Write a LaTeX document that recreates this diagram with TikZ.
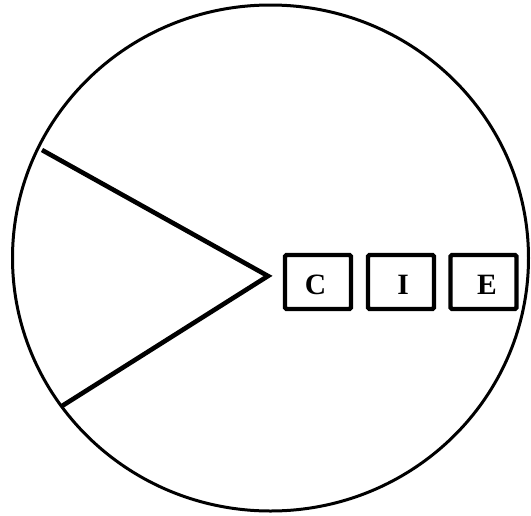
\documentclass[tikz,border=0pt]{standalone}
\usepackage{fontspec}
\setmainfont{Liberation Serif}
\usetikzlibrary{shapes.geometric}
\begin{document}
\begin{tikzpicture}[x=1pt,y=-1pt,
  ring/.style={draw=black,line width=3pt},
  spoke/.style={draw=black,line width=4.6pt,line cap=butt,line join=miter},
  letterbox/.style={draw=black,line width=4.3pt,rounded corners=1.5pt,minimum width=66pt,minimum height=54pt,inner sep=0pt},
  letter/.style={font=\bfseries\fontsize{29.5}{29.5}\selectfont,inner sep=0pt}]
\useasboundingbox (0,0) rectangle (531,515);
\node[ring,ellipse,minimum width=516pt,minimum height=506pt,inner sep=0pt] (disc) at (270.5,258) {};
\coordinate (apex) at (268,276);
\coordinate (top) at (42,150);
\coordinate (bot) at (62,406);
\draw[spoke] (top) -- (apex) -- (bot);
\node[letterbox] (bC) at (318,282) {};
\node[letterbox] (bI) at (401,282) {};
\node[letterbox] (bE) at (483.5,282) {};
\node[letter] (tC) at (315.5,285) {C};
\node[letter] (tI) at (403,285) {I};
\node[letter] (tE) at (487,284.5) {E};
\end{tikzpicture}
\end{document}
